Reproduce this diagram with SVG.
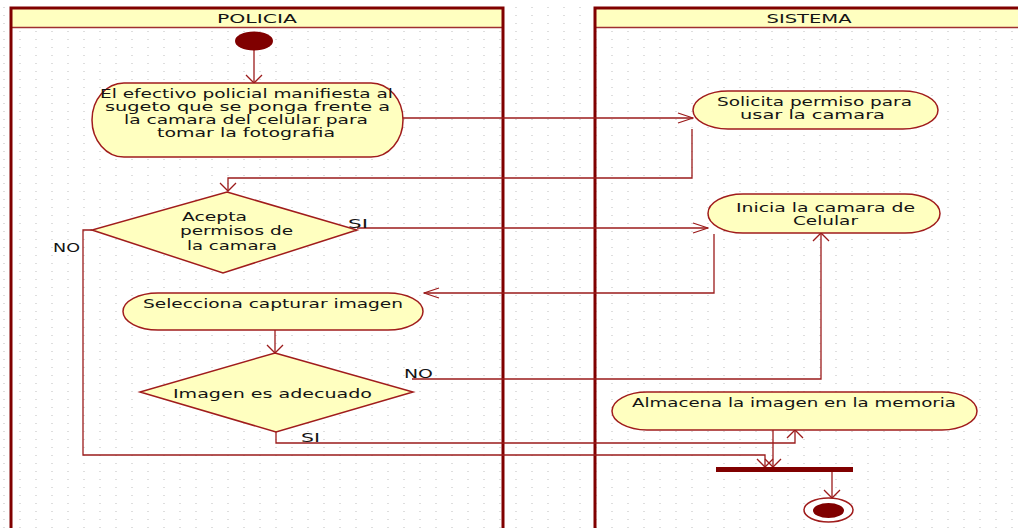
<svg xmlns="http://www.w3.org/2000/svg" width="1018" height="528" viewBox="0 0 1018 528">
<defs>
<pattern id="grid" x="0" y="0" width="16" height="8" patternUnits="userSpaceOnUse">
<rect x="3" y="7.5" width="2" height="1" fill="#bdbdbd"/>
</pattern>
<marker id="arrH" viewBox="-16 -6 17 12" refX="0" refY="0" markerWidth="17" markerHeight="12" markerUnits="userSpaceOnUse" orient="auto">
<path d="M-15,-5 L0,0 L-15,5" fill="none" stroke="#9b1b1b" stroke-width="1.3"/>
</marker>
<marker id="arrV" viewBox="-10 -10 11 20" refX="0" refY="0" markerWidth="11" markerHeight="20" markerUnits="userSpaceOnUse" orient="auto">
<path d="M-8,-8 L0,0 L-8,8" fill="none" stroke="#9b1b1b" stroke-width="1.3"/>
</marker>
</defs>
<style>
.lane{fill:none;stroke:#800000;stroke-width:3}
.hdr{fill:#ffffc0;stroke:none}
.hdrline{stroke:#a03030;stroke-width:1.5}
.node{fill:#ffffc0;stroke:#a01c1c;stroke-width:1.5}
.t{font-family:"DejaVu Sans","Liberation Sans",sans-serif;font-size:13px;fill:#141414}
.c{fill:none;stroke:#9b1b1b;stroke-width:1.3}
.h{marker-end:url(#arrH)}
.v{marker-end:url(#arrV)}
</style>
<rect width="1018" height="528" fill="#ffffff"/>
<rect width="1018" height="528" fill="url(#grid)"/>

<g id="lane-policia">
<rect class="hdr" x="11" y="8" width="492" height="19"/>
<line class="hdrline" x1="11" y1="27.5" x2="503" y2="27.5"/>
<path class="lane" d="M11,528 V8 H503 V528"/>
<text class="t" x="257" y="23" text-anchor="middle" textLength="80" lengthAdjust="spacingAndGlyphs">POLICIA</text>
</g>
<g id="lane-sistema">
<rect class="hdr" x="595" y="8" width="430" height="19"/>
<line class="hdrline" x1="595" y1="27.5" x2="1018" y2="27.5"/>
<path class="lane" d="M595,528 V8 H1025"/>
<text class="t" x="809" y="23" text-anchor="middle" textLength="85" lengthAdjust="spacingAndGlyphs">SISTEMA</text>
</g>

<g id="connectors">
<path class="c v" d="M254,50 V83"/>
<path class="c h" d="M403,118 H693"/>
<path class="c v" d="M692,129 V178 H228 V191"/>
<path class="c h" d="M357,228 H708"/>
<path class="c v" d="M92,230 H83 V455 H765 V467"/>
<path class="c h" d="M714,234 V293 H424"/>
<path class="c v" d="M275,330 V353"/>
<path class="c v" d="M412,379 H821 V233"/>
<path class="c v" d="M276,432 V443 H795 V430"/>
<path class="c v" d="M773,430 V467"/>
<path class="c v" d="M832,472 V498"/>
<text class="t" x="348" y="228" textLength="20" lengthAdjust="spacingAndGlyphs">SI</text>
<text class="t" x="53" y="252" textLength="27" lengthAdjust="spacingAndGlyphs">NO</text>
<text class="t" x="404" y="378" textLength="29" lengthAdjust="spacingAndGlyphs">NO</text>
<text class="t" x="301" y="442" textLength="19" lengthAdjust="spacingAndGlyphs">SI</text>
</g>

<g id="start">
<ellipse cx="254" cy="41" rx="19" ry="9.5" fill="#800000"/>
</g>

<g id="action-manifiesta">
<rect class="node" x="92" y="83" width="311" height="74" rx="32" ry="37"/>
<text class="t" x="100" y="98" textLength="293" lengthAdjust="spacingAndGlyphs">El efectivo policial manifiesta al</text>
<text class="t" x="105" y="111" textLength="285" lengthAdjust="spacingAndGlyphs">sugeto que se ponga frente a</text>
<text class="t" x="124" y="124" textLength="244" lengthAdjust="spacingAndGlyphs">la camara del celular para</text>
<text class="t" x="157" y="137" textLength="178" lengthAdjust="spacingAndGlyphs">tomar la fotografia</text>
</g>

<g id="action-solicita">
<rect class="node" x="693" y="91" width="245" height="38" rx="35" ry="19"/>
<text class="t" x="717" y="106" textLength="195" lengthAdjust="spacingAndGlyphs">Solicita permiso para</text>
<text class="t" x="740" y="119" textLength="145" lengthAdjust="spacingAndGlyphs">usar la camara</text>
</g>

<g id="decision-acepta">
<polygon class="node" points="227,192 357,230 223,273 92,230"/>
<text class="t" x="182" y="221" textLength="65" lengthAdjust="spacingAndGlyphs">Acepta</text>
<text class="t" x="180" y="235" textLength="113" lengthAdjust="spacingAndGlyphs">permisos de</text>
<text class="t" x="187" y="250" textLength="90" lengthAdjust="spacingAndGlyphs">la camara</text>
</g>

<g id="action-inicia">
<rect class="node" x="708" y="194" width="232" height="39" rx="35" ry="19.5"/>
<text class="t" x="736" y="212" textLength="179" lengthAdjust="spacingAndGlyphs">Inicia la camara de</text>
<text class="t" x="793" y="225" textLength="65" lengthAdjust="spacingAndGlyphs">Celular</text>
</g>

<g id="action-selecciona">
<rect class="node" x="123" y="293" width="300" height="37" rx="35" ry="18.5"/>
<text class="t" x="143" y="308" textLength="260" lengthAdjust="spacingAndGlyphs">Selecciona capturar imagen</text>
</g>

<g id="decision-imagen">
<polygon class="node" points="275,353 413,392 276,432 140,392"/>
<text class="t" x="173" y="398" textLength="199" lengthAdjust="spacingAndGlyphs">Imagen es adecuado</text>
</g>

<g id="action-almacena">
<rect class="node" x="612" y="392" width="365" height="38" rx="35" ry="19"/>
<text class="t" x="632" y="407" textLength="324" lengthAdjust="spacingAndGlyphs">Almacena la imagen en la memoria</text>
</g>

<g id="join-bar">
<rect x="716" y="467" width="137" height="5" fill="#800000"/>
</g>

<g id="end">
<ellipse cx="828.5" cy="510" rx="24.5" ry="12" fill="#ffffff" stroke="#a01c1c" stroke-width="1.5"/>
<ellipse cx="828.5" cy="510.5" rx="15.5" ry="7.5" fill="#800000"/>
</g>
</svg>
